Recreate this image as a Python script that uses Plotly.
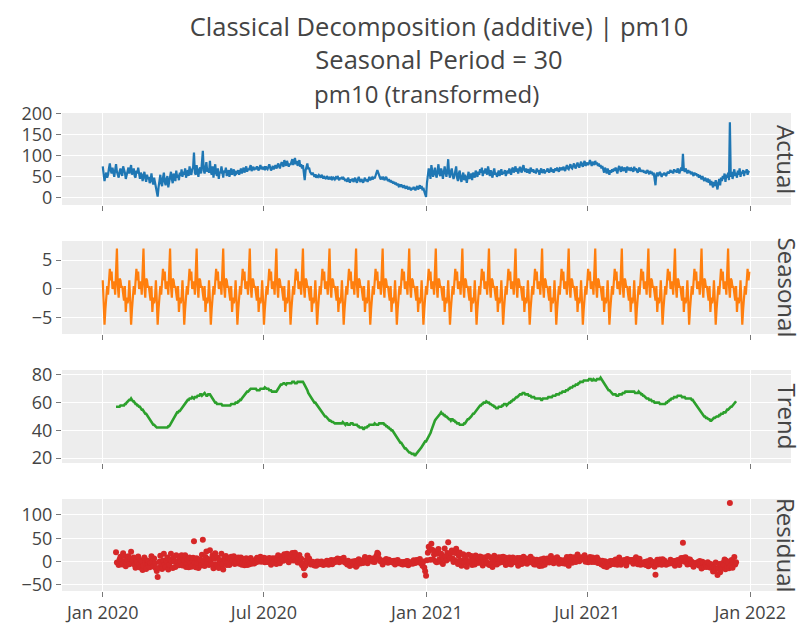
import pandas as pd
import plotly.graph_objects as go
from plotly.subplots import make_subplots

# ---------------- data ----------------
START_DATE = "2020-01-01"
PERIOD = 30
TREND_OFFSET = 15  # centred moving average: first/last 15 days undefined

# daily pm10 values, Jan 2020 .. Dec 2021 (one line per month)
actual = (
    [75, 45, 40, 52, 60, 48, 55, 70, 82, 65, 58, 72, 60, 50, 66, 80, 62, 55, 48, 63, 70, 58, 52, 75, 68, 60, 45, 55, 62, 72, 58]
    + [66, 78, 55, 62, 70, 52, 48, 65, 58, 72, 50, 45, 60, 55, 40, 52, 62, 48, 38, 55, 45, 50, 35, 42, 58, 40, 32, 48, 38]
    + [30, 20, 3, 25, 40, 55, 35, 28, 48, 60, 38, 30, 45, 52, 25, 40, 55, 62, 45, 35, 58, 50, 40, 65, 48, 55, 42, 60, 52, 68, 50]
    + [62, 55, 70, 48, 58, 66, 52, 75, 60, 55, 68, 72, 108, 60, 55, 78, 62, 50, 68, 72, 58, 80, 112, 65, 58, 72, 85, 62, 70, 60]
    + [88, 62, 55, 75, 48, 66, 80, 58, 52, 70, 45, 62, 58, 75, 55, 48, 65, 60, 72, 52, 58, 66, 50, 62, 70, 55, 60, 68, 52, 64, 58]
    + [60, 66, 55, 62, 70, 58, 65, 72, 60, 68, 75, 62, 70, 66, 72, 78, 64, 70, 74, 66, 72, 68, 75, 70, 65, 72, 78, 68, 74, 70]
    + [72, 66, 75, 70, 68, 74, 80, 72, 65, 70, 76, 68, 72, 78, 70, 74, 82, 76, 70, 78, 85, 80, 74, 90, 82, 76, 88, 80, 74, 82, 78]
    + [86, 92, 78, 84, 95, 80, 88, 76, 82, 90, 74, 80, 70, 78, 60, 42, 65, 75, 82, 68, 72, 62, 58, 55, 60, 52, 50, 56, 48, 52, 50]
    + [54, 50, 48, 55, 52, 46, 50, 48, 45, 52, 48, 44, 50, 46, 48, 42, 50, 47, 44, 48, 45, 52, 46, 42, 48, 45, 50, 44, 47, 42]
    + [40, 45, 38, 48, 42, 36, 44, 40, 46, 38, 42, 48, 40, 36, 44, 50, 42, 38, 45, 40, 36, 42, 48, 40, 44, 38, 46, 50, 42, 45, 48]
    + [44, 50, 46, 52, 58, 66, 60, 52, 48, 44, 50, 46, 48, 42, 46, 50, 44, 40, 45, 38, 42, 36, 40, 34, 38, 32, 36, 30, 34, 28]
    + [30, 26, 32, 28, 24, 30, 26, 22, 28, 25, 20, 26, 22, 18, 24, 20, 26, 22, 18, 24, 28, 20, 25, 30, 22, 28, 18, 24, 15, 10, 2]
    + [35, 55, 70, 62, 45, 78, 68, 50, 60, 72, 55, 48, 65, 80, 58, 52, 70, 62, 45, 58, 75, 60, 50, 66, 92, 58, 48, 62, 70, 55, 45]
    + [52, 68, 75, 48, 40, 58, 65, 45, 38, 52, 60, 42, 55, 48, 36, 50, 62, 45, 52, 58, 42, 60, 55, 48, 65, 58, 50, 62]
    + [55, 68, 60, 72, 52, 65, 58, 70, 62, 55, 75, 60, 52, 66, 58, 48, 62, 70, 55, 60, 50, 58, 65, 52, 60, 68, 55, 62, 58, 66, 52]
    + [60, 65, 58, 70, 62, 55, 68, 72, 60, 66, 75, 62, 70, 58, 68, 74, 65, 60, 72, 78, 66, 62, 70, 60, 68, 64, 58, 72, 66, 62]
    + [68, 60, 65, 58, 70, 62, 66, 55, 64, 70, 60, 62, 68, 58, 65, 62, 70, 64, 60, 66, 72, 62, 68, 60, 66, 70, 64, 72, 66, 62, 70]
    + [68, 72, 66, 74, 70, 64, 72, 78, 70, 68, 75, 80, 72, 70, 76, 82, 74, 70, 78, 84, 76, 72, 80, 86, 78, 74, 82, 88, 76, 80]
    + [84, 78, 82, 90, 80, 76, 86, 82, 78, 88, 80, 84, 76, 82, 74, 78, 70, 76, 68, 60, 72, 65, 58, 70, 62, 55, 66, 60, 68, 62, 70]
    + [64, 72, 66, 58, 70, 76, 68, 62, 74, 70, 64, 72, 68, 60, 74, 70, 66, 72, 64, 70, 68, 62, 74, 66, 70, 64, 60, 68, 72, 62, 66]
    + [62, 66, 60, 64, 58, 62, 66, 60, 56, 64, 58, 62, 54, 60, 48, 30, 56, 60, 52, 58, 62, 56, 50, 58, 54, 60, 56, 52, 58, 62]
    + [58, 62, 66, 60, 64, 58, 68, 62, 66, 60, 70, 64, 58, 66, 72, 64, 105, 68, 62, 70, 64, 58, 66, 60, 64, 56, 62, 58, 52, 60, 55]
    + [58, 52, 56, 48, 54, 50, 44, 52, 46, 40, 48, 42, 38, 46, 36, 44, 30, 40, 34, 25, 38, 28, 42, 32, 20, 36, 45, 30, 48, 40]
    + [52, 45, 58, 38, 55, 48, 60, 42, 180, 50, 62, 45, 58, 68, 52, 60, 48, 65, 55, 70, 50, 62, 58, 66, 52, 64, 60, 68, 55, 62, 60]
)

# one 30-day seasonal cycle
seasonal_pattern = [1.5, -2.0, -6.2, -3.5, -1.5, 0.5, -1.0, 2.0, 3.5, 1.5,
                    3.0, 0.0, 0.8, 1.3, -1.0, 3.0, 7.0, 0.5, -1.5, 1.8,
                    1.5, 0.2, 0.5, -0.8, -2.0, 0.5, -4.0, -1.5, -2.5, -1.6]

# daily trend, starting on day 15 (2020-01-16)
trend = [
    57, 57, 57, 57, 57, 58, 58, 58, 58, 58, 59, 59, 60, 61, 62, 62, 62, 63, 62, 61,
    61, 60, 59, 59, 58, 58, 57, 57, 56, 55, 55, 54, 53, 52, 52, 51, 50, 49, 48, 47,
    46, 45, 44, 44, 43, 43, 42, 42, 42, 42, 42, 42, 42, 42, 42, 42, 42, 42, 42, 43,
    43, 44, 45, 46, 47, 48, 50, 51, 52, 53, 53, 54, 54, 55, 56, 57, 58, 59, 60, 61,
    61, 62, 62, 63, 63, 63, 64, 63, 63, 64, 64, 64, 65, 65, 65, 66, 66, 65, 66, 67,
    67, 66, 65, 65, 66, 66, 66, 65, 64, 63, 62, 61, 60, 60, 59, 59, 59, 59, 59, 59,
    58, 58, 58, 58, 58, 58, 58, 58, 58, 58, 59, 59, 59, 59, 59, 60, 60, 60, 61, 61,
    62, 62, 63, 64, 65, 65, 66, 67, 68, 68, 69, 69, 70, 70, 70, 70, 70, 70, 70, 69,
    69, 69, 69, 70, 70, 70, 70, 70, 71, 70, 70, 70, 70, 69, 69, 69, 68, 68, 68, 68,
    68, 68, 69, 70, 71, 72, 73, 73, 74, 74, 74, 73, 73, 74, 74, 74, 74, 74, 74, 75,
    75, 75, 74, 74, 74, 75, 75, 75, 75, 75, 75, 75, 74, 73, 72, 70, 69, 67, 66, 65,
    64, 63, 62, 61, 60, 60, 59, 58, 57, 56, 55, 54, 53, 52, 52, 51, 50, 50, 49, 48,
    48, 47, 47, 46, 46, 46, 45, 45, 45, 45, 45, 45, 45, 45, 45, 45, 46, 45, 45, 44,
    45, 45, 44, 44, 44, 45, 45, 45, 44, 44, 44, 44, 44, 43, 43, 42, 42, 42, 42, 41,
    41, 42, 42, 42, 43, 43, 44, 44, 44, 44, 44, 44, 45, 44, 44, 44, 44, 45, 45, 45,
    45, 45, 45, 44, 44, 43, 43, 42, 42, 41, 41, 40, 40, 39, 38, 37, 36, 35, 34, 33,
    32, 31, 31, 30, 29, 28, 27, 27, 26, 25, 25, 24, 24, 23, 23, 23, 23, 22, 22, 23,
    24, 25, 26, 27, 27, 28, 29, 30, 31, 32, 32, 33, 34, 35, 36, 38, 40, 42, 44, 46,
    47, 48, 49, 50, 51, 52, 52, 53, 52, 52, 51, 51, 50, 50, 49, 49, 48, 48, 47, 48,
    48, 47, 47, 46, 46, 45, 45, 45, 44, 44, 44, 44, 44, 45, 45, 46, 47, 48, 48, 49,
    50, 50, 51, 52, 52, 53, 54, 55, 56, 57, 57, 58, 58, 59, 59, 60, 60, 60, 61, 60,
    60, 60, 59, 59, 58, 58, 58, 57, 57, 56, 56, 56, 57, 57, 57, 57, 58, 58, 59, 59,
    59, 58, 59, 59, 60, 60, 61, 61, 62, 62, 63, 63, 64, 64, 65, 65, 66, 66, 66, 67,
    67, 67, 66, 66, 66, 66, 65, 65, 65, 64, 64, 64, 64, 63, 63, 63, 63, 63, 63, 63,
    62, 62, 63, 63, 63, 63, 63, 63, 64, 64, 64, 64, 64, 65, 65, 65, 65, 66, 66, 66,
    66, 67, 67, 67, 68, 68, 68, 68, 69, 69, 69, 70, 70, 71, 71, 71, 72, 72, 72, 73,
    73, 73, 74, 74, 75, 75, 75, 75, 76, 76, 76, 76, 76, 76, 77, 77, 77, 76, 76, 77,
    76, 76, 76, 77, 77, 77, 77, 78, 77, 76, 75, 74, 73, 72, 71, 70, 69, 69, 68, 67,
    67, 66, 66, 66, 66, 65, 65, 65, 66, 66, 66, 66, 67, 67, 67, 68, 68, 68, 68, 68,
    68, 68, 68, 68, 68, 68, 67, 67, 67, 67, 68, 67, 67, 66, 66, 65, 65, 64, 64, 63,
    63, 63, 62, 62, 62, 61, 61, 61, 60, 60, 60, 60, 60, 60, 59, 59, 59, 59, 59, 59,
    59, 60, 60, 61, 61, 62, 62, 63, 63, 63, 64, 64, 64, 64, 65, 65, 65, 65, 65, 64,
    64, 64, 64, 63, 63, 63, 63, 63, 63, 63, 62, 62, 61, 60, 59, 58, 57, 56, 55, 54,
    53, 52, 52, 51, 50, 50, 49, 49, 48, 48, 48, 47, 47, 48, 48, 49, 49, 50, 50, 50,
    50, 51, 51, 52, 52, 52, 53, 53, 53, 54, 55, 55, 56, 56, 57, 57, 58, 59, 59, 60,
    61,
]

row_titles = ["Actual", "Seasonal", "Trend", "Residual"]
x_tick_vals = ["2020-01-01", "2020-07-01", "2021-01-01", "2021-07-01", "2022-01-01"]
x_tick_text = ["Jan 2020", "Jul 2020", "Jan 2021", "Jul 2021", "Jan 2022"]
y_ticks = [[0, 50, 100, 150, 200], [-5, 0, 5], [20, 40, 60, 80], [-50, 0, 50, 100]]
colors = ["#1f77b4", "#ff7f0e", "#2ca02c", "#d62728"]

# ---------------- derived series ----------------
dates = pd.date_range(START_DATE, periods=len(actual), freq="D")
seasonal = [seasonal_pattern[i % PERIOD] for i in range(len(actual))]
trend_dates = dates[TREND_OFFSET:TREND_OFFSET + len(trend)]
residual = [actual[TREND_OFFSET + i] - trend[i] - seasonal[TREND_OFFSET + i]
            for i in range(len(trend))]

# ---------------- figure ----------------
fig = make_subplots(rows=4, cols=1, shared_xaxes=True)

fig.add_trace(go.Scatter(x=dates, y=actual, mode="lines",
                         line=dict(color=colors[0], width=2.2), name="Actual"), row=1, col=1)
fig.add_trace(go.Scatter(x=dates, y=seasonal, mode="lines",
                         line=dict(color=colors[1], width=2.2), name="Seasonal"), row=2, col=1)
fig.add_trace(go.Scatter(x=trend_dates, y=trend, mode="lines",
                         line=dict(color=colors[2], width=2.6), name="Trend"), row=3, col=1)
fig.add_trace(go.Scatter(x=trend_dates, y=residual, mode="markers",
                         marker=dict(color=colors[3], size=6), name="Residual"), row=4, col=1)

H = 623
top, bottom = 105, 583
span = bottom - top
rows_px = [(105, 197), (233, 326), (362, 455), (491, 583)]
y_ranges = [[-17, 202], [-7.8, 8.3], [16.4, 83.6], [-63, 134]]

fig.update_layout(
    template="ggplot2",
    width=807, height=H,
    margin=dict(l=54, r=24, t=top, b=H - bottom, autoexpand=False),
    showlegend=False,
    font=dict(family="Open Sans", size=18, color="rgb(68,68,68)"),
    title=dict(text="Classical Decomposition (additive) | pm10<br>Seasonal Period = 30",
               x=431 / 807, xanchor="center", xref="container",
               y=1 - 28 / H, yanchor="middle", yref="container",
               font=dict(size=25.5, color="rgb(68,68,68)")),
)

for i in range(4):
    y0, y1 = rows_px[i]
    yax = "yaxis" if i == 0 else f"yaxis{i + 1}"
    xax = "xaxis" if i == 0 else f"xaxis{i + 1}"
    fig.layout[yax].update(domain=[(bottom - y1) / span, (bottom - y0) / span],
                           range=y_ranges[i], tickvals=y_ticks[i], automargin=False,
                           ticks="outside", ticklen=5, tickcolor="rgb(120,120,120)",
                           tickfont=dict(size=18), zeroline=False,
                           gridcolor="white", gridwidth=1)
    fig.layout[xax].update(range=["2019-11-16", "2022-02-16"], automargin=False,
                           tickvals=x_tick_vals, ticktext=x_tick_text,
                           ticks="outside", ticklen=5, tickcolor="rgb(120,120,120)",
                           tickfont=dict(size=18), showticklabels=(i == 3),
                           gridcolor="white", gridwidth=1)
    fig.add_annotation(text=row_titles[i], textangle=90,
                       xref="paper", x=1, xanchor="center", xshift=-4,
                       yref="paper", y=(bottom - (y0 + y1) / 2) / span, yanchor="middle",
                       showarrow=False, font=dict(size=24, color="rgb(68,68,68)"))

fig.add_annotation(text="pm10 (transformed)", xref="paper", x=0.5, xanchor="center",
                   yref="paper", y=1, yanchor="bottom", yshift=1, showarrow=False,
                   font=dict(size=24, color="rgb(68,68,68)"))

fig.write_html("out.html")
